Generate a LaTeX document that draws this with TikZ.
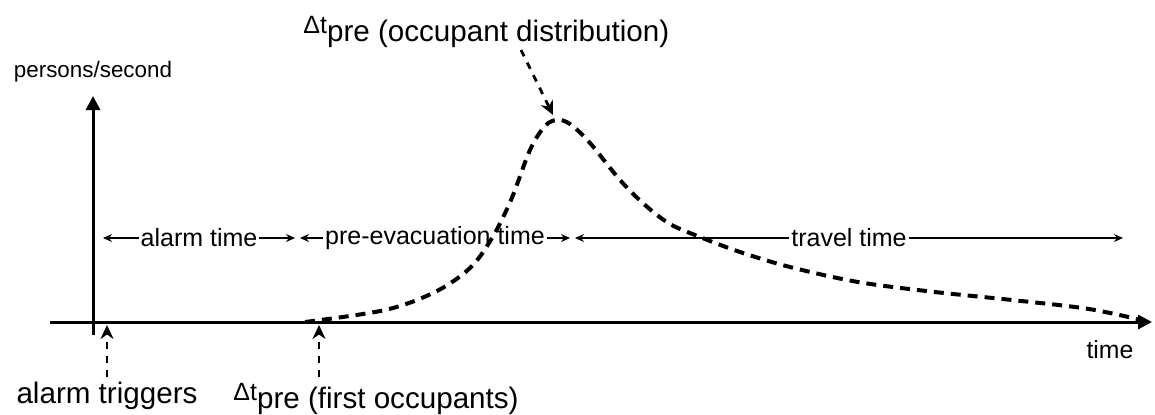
\documentclass[tikz,border=0pt]{standalone}
\usepackage{fontspec}
\setmainfont{Liberation Sans}
\usetikzlibrary{arrows.meta}
\newcommand{\dtpre}{\raisebox{4pt}{\fontsize{12.5}{14}\selectfont Δt}}

\begin{document}
\begin{tikzpicture}[x=0.5pt,y=-0.5pt,
axis/.style={line width=1.5pt,-{Triangle[length=7pt,width=7pt]}},
pointer/.style={line width=1.4pt,dash pattern=on 3.5pt off 3.5pt,-{Stealth[length=7pt,width=6.5pt]}},
span/.style={line width=0.6pt,{Stealth[length=4.5pt,width=4pt]}-{Stealth[length=4.5pt,width=4pt]}},
spanlabel/.style={fill=white,inner sep=1pt,font=\fontsize{12.5}{15}\selectfont},
biglabel/.style={inner sep=0pt,font=\fontsize{14.8}{18}\selectfont},
flow/.style={line width=2pt,dash pattern=on 5pt off 3.5pt}]
\useasboundingbox (0,0) rectangle (1155,414);
% axes
\coordinate (xstart) at (50,322);
\coordinate (xend) at (1152,322);
\coordinate (ybot) at (93,335);
\coordinate (ytop) at (93,96);
\draw[axis] (xstart) -- (xend);
\draw[axis] (ybot) -- (ytop);
\node[anchor=base,inner sep=0pt,font=\fontsize{11.2}{13}\selectfont] (ylabel) at (93,77) {persons/second};
\node[anchor=base,inner sep=0pt,font=\fontsize{12.4}{15}\selectfont] (xlabel) at (1110,358) {time};
% time spans
\coordinate (alarmA) at (103,238);
\coordinate (alarmB) at (295,238);
\coordinate (preA) at (300,238);
\coordinate (preB) at (570,238);
\coordinate (travelA) at (575,238);
\coordinate (travelB) at (1123,238);
\draw[span] (alarmA) -- node[spanlabel] (alarmlabel) {alarm time} (alarmB);
\draw[span] (preA) -- node[spanlabel] (prelabel) {pre-evacuation time} (preB);
\draw[span] (travelA) -- node[spanlabel] (travellabel) {travel time} (travelB);
% occupant flow
\draw[flow] plot[smooth,tension=0.55] coordinates {(305,322) (385,310) (435,292) (470,268)
  (492,238) (511,200) (530,150) (545,126) (557,120) (570,124) (590,143) (620,180)
  (645,205) (670,224) (700,237) (740,252) (790,267) (858,282) (935,292) (1012,300)
  (1089,309) (1150,322)};
% labels and pointers
\node[biglabel,anchor=base] (trigger) at (107,403) {alarm triggers};
\node[biglabel,anchor=base west] (first) at (233,408) {\dtpre pre (first occupants)};
\node[biglabel,anchor=base west] (peaklabel) at (303,41) {\dtpre pre (occupant distribution)};
\coordinate (triggertail) at (107,377);
\coordinate (triggerhead) at (107,325);
\coordinate (firsttail) at (319,377);
\coordinate (firsthead) at (319,325);
\coordinate (peaktail) at (521,50);
\coordinate (peakhead) at (553,115);
\draw[pointer] (triggertail) -- (triggerhead);
\draw[pointer] (firsttail) -- (firsthead);
\draw[pointer] (peaktail) -- (peakhead);
\end{tikzpicture}
\end{document}
